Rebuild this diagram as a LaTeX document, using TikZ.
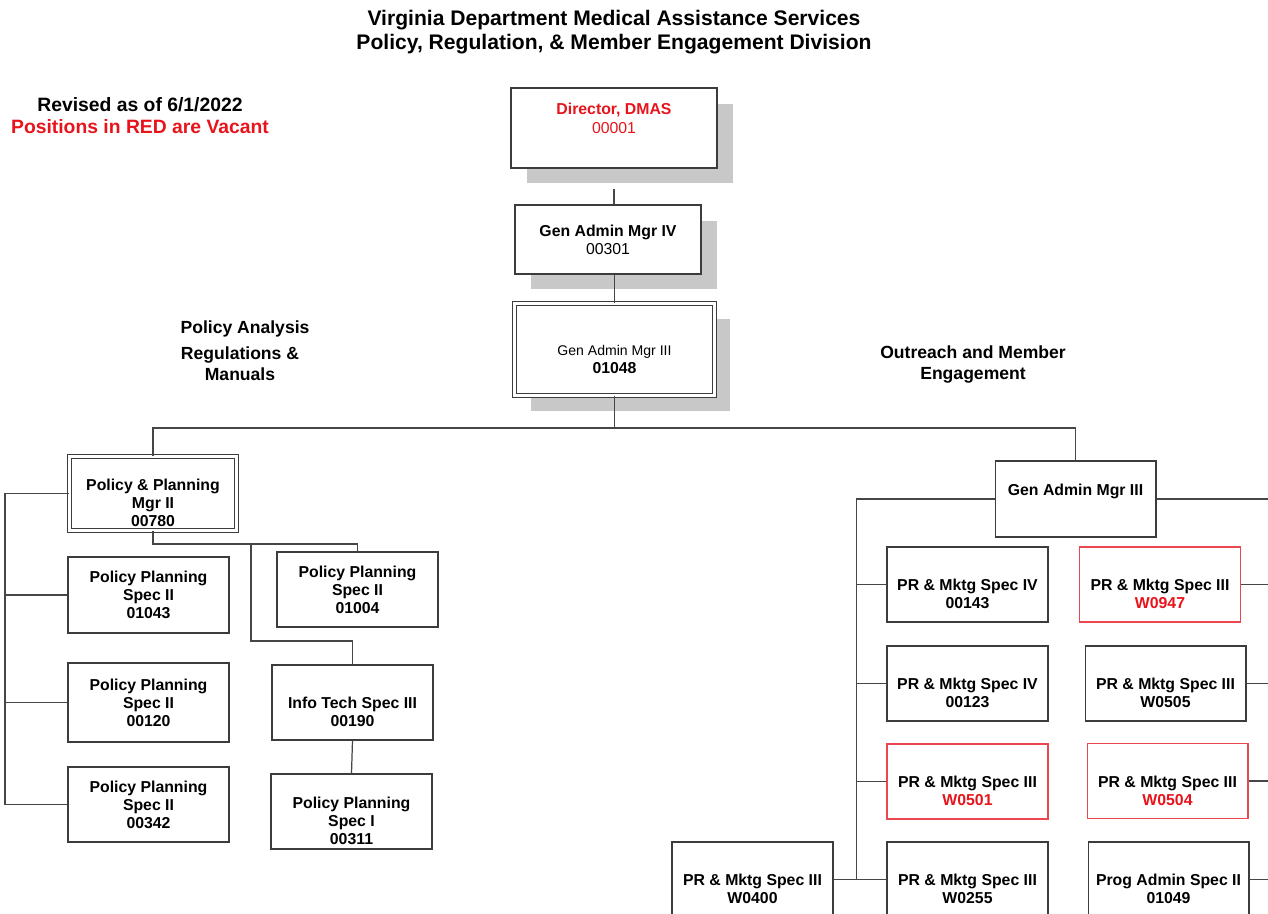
\documentclass[tikz,border=0pt]{standalone}
\usepackage{fontspec}
\setmainfont{Liberation Sans}
\usetikzlibrary{shadows}
\definecolor{boxgray}{RGB}{60,60,60}
\definecolor{linegray}{RGB}{70,70,70}
\definecolor{vacred}{RGB}{232,20,28}
\definecolor{vacline}{RGB}{236,70,80}
\definecolor{shadowgray}{RGB}{200,200,200}

\begin{document}
\begin{tikzpicture}[
      x = 0.02cm,
      y = -0.02cm,
      box/.style = {draw=boxgray, fill=white, line width=0.6pt, inner sep=0pt,
        minimum width=3.22cm, minimum height=1.5cm, align=center,
        font=\bfseries\fontsize{9}{10.2}\selectfont},
      vacant/.style = {box, draw=vacline},
      dbox/.style = {box, double=white, double distance=1.4pt, line width=0.5pt},
      shade/.style = {drop shadow={shadow xshift=0.32cm, shadow yshift=-0.31cm,
        opacity=1, fill=shadowgray}},
      link/.style = {draw=linegray, line width=0.7pt},
      head/.style = {font=\bfseries\fontsize{12}{13.6}\selectfont, align=center},
      note/.style = {font=\bfseries\fontsize{10}{11.9}\selectfont, align=center},
  ]

  \path[use as bounding box, fill=white] (0,0) rectangle (1268,913);
  \clip (0,0) rectangle (1268,913);

  \node[head] (title) at (614,32) {Virginia Department Medical Assistance Services\\Policy, Regulation, \& Member Engagement Division};
  \node[font=\bfseries\fontsize{11}{12.5}\selectfont, align=center] (rev) at (140,116)
    {Revised as of 6/1/2022\\\textcolor{vacred}{Positions in RED are Vacant}};
  \node[note] (polan) at (245,329) {Policy Analysis};
  \node[note] (regman) at (240,363.5) {Regulations \&\\Manuals};
  \node[note] (outr) at (973,364.5) {Outreach and Member\\Engagement};

  % top of the division
  \node[box, shade, minimum width=4.12cm, minimum height=1.6cm, text=vacred,
    font=\bfseries\fontsize{9}{10.8}\selectfont] (dir) at (614,128) {Director, DMAS\\{\mdseries 00001}\\\mbox{}};
  \node[box, shade, minimum width=3.72cm, minimum height=1.38cm] (gm4) at (608,239.5) {Gen Admin Mgr IV\\{\mdseries 00301}};
  \node[dbox, shade, minimum width=4.0cm, minimum height=1.84cm] (gm3) at (614.5,349.5)
    {\strut\\{\mdseries\fontsize{8}{10.2}\selectfont Gen Admin Mgr III}\\01048};

  % policy side
  \node[dbox, minimum width=3.34cm, minimum height=1.48cm] (ppm) at (153,493.5) {\strut\\Policy \& Planning\\Mgr II\\00780};
  \node[box, minimum height=1.52cm] (pps1) at (148.5,595) {Policy Planning\\Spec II\\01043};
  \node[box, minimum height=1.58cm] (pps2) at (148.5,702.5) {Policy Planning\\Spec II\\00120};
  \node[box] (pps3) at (148.5,804.5) {Policy Planning\\Spec II\\00342};
  \node[box] (pps4) at (357.5,589.5) {Policy Planning\\Spec II\\01004};
  \node[box] (its3) at (352.5,702.5) {\strut\\Info Tech Spec III\\00190};
  \node[box] (pps5) at (351.5,811.5) {\strut\\Policy Planning\\Spec I\\00311};

  % outreach side
  \node[box, minimum height=1.52cm] (gm3b) at (1075.5,499) {Gen Admin Mgr III\\\mbox{}};
  \node[box] (pr1) at (967.5,584.5) {\strut\\PR \& Mktg Spec IV\\00143};
  \node[box] (pr2) at (967.5,683.5) {\strut\\PR \& Mktg Spec IV\\00123};
  \node[vacant] (pr3) at (967.5,781.5) {\strut\\PR \& Mktg Spec III\\\textcolor{vacred}{W0501}};
  \node[box] (pr4) at (967.5,879.5) {\strut\\PR \& Mktg Spec III\\W0255};
  \node[box] (pr5) at (752.5,879.5) {\strut\\PR \& Mktg Spec III\\W0400};
  \node[vacant] (pr6) at (1160,584.5) {\strut\\PR \& Mktg Spec III\\\textcolor{vacred}{W0947}};
  \node[box] (pr7) at (1165.5,683.5) {\strut\\PR \& Mktg Spec III\\W0505};
  \node[vacant] (pr8) at (1167.5,781) {\strut\\PR \& Mktg Spec III\\\textcolor{vacred}{W0504}};
  \node[box] (pas2) at (1168.5,879.5) {\strut\\Prog Admin Spec II\\01049};

  \draw[link] (dir.south) ++(0,20) -- (gm4.north -| dir.south);
  \draw[link] (gm3.north) -- (gm3.north |- gm4.south);
  \draw[link] (gm3.south) -- ++(0,32) coordinate (bar);
  \draw[link] (ppm.north) |- (bar) -| (gm3b.north);

  \draw[link] (ppm.west) -- ++(-64,0) coordinate (lsp) |- (pps3.west);
  \draw[link] (pps1.west) -- (pps1.west -| lsp);
  \draw[link] (pps2.west) -- (pps2.west -| lsp);
  \draw[link] (ppm.south) -- ++(0,13) coordinate (pbr) -| (pps4.north);
  \draw[link] (pbr) ++(98,0) -- ++(0,97) -| (its3.north);
  \draw[link] (its3.south) -- (pps5.north);

  \draw[link] (gm3b.west) -- ++(-138,0) coordinate (rsp) -- (rsp |- pr4.west);
  \foreach \n in {pr1,pr2,pr3}
    \draw[link] (\n.west) -- (\n.west -| rsp);
  \draw[link] (pr5.east) -- (pr4.west);
  \coordinate (redge) at (1290,0);
  \draw[link] (gm3b.east) -- (gm3b.east -| redge);
  \foreach \n in {pr6,pr7,pr8,pas2}
    \draw[link] (\n.east) -- (\n.east -| redge);

\end{tikzpicture}
\end{document}
